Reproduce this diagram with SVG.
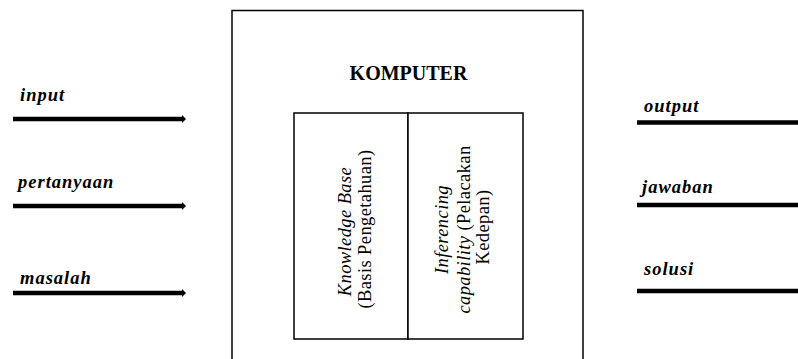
<svg xmlns="http://www.w3.org/2000/svg" width="798" height="359" viewBox="0 0 798 359">
  <style>
    .box { fill: #fff; stroke: #000; stroke-width: 1.5; }
    .flow { stroke: #000; stroke-width: 4.5; fill: none; }
    .lbl { font-family: "Liberation Serif", "Times New Roman", serif; font-size: 18.5px; font-weight: bold; font-style: italic; fill: #000; letter-spacing: 1px; }
    .title { font-family: "Liberation Serif", "Times New Roman", serif; font-size: 20px; font-weight: bold; fill: #000; }
    .vt { font-family: "Liberation Serif", "Times New Roman", serif; font-size: 18.5px; fill: #000; text-anchor: middle; letter-spacing: 0.4px; }
    .it { font-style: italic; }
  </style>
  <defs>
    <marker id="head" markerWidth="4" markerHeight="8" refX="0" refY="4" orient="auto" markerUnits="userSpaceOnUse">
      <path d="M0,0 L4,4 L0,8 Z" fill="#000"/>
    </marker>
  </defs>

  <!-- computer frame -->
  <g id="komputer">
    <rect class="box" x="232" y="10.5" width="351" height="360"/>
    <text class="title" x="408.5" y="80" text-anchor="middle">KOMPUTER</text>
  </g>

  <!-- knowledge base column -->
  <g id="knowledge-base">
    <rect class="box" x="294" y="113" width="114" height="226"/>
    <text class="vt" transform="translate(352 229) rotate(-90)">
      <tspan class="it" x="0" y="-1">Knowledge Base</tspan>
      <tspan x="0" y="19">(Basis Pengetahuan)</tspan>
    </text>
  </g>

  <!-- inferencing column -->
  <g id="inferencing">
    <rect class="box" x="408" y="113" width="115" height="226"/>
    <text class="vt" transform="translate(466 227) rotate(-90)">
      <tspan class="it" x="0" y="-18">Inferencing</tspan>
      <tspan x="0" y="4"><tspan class="it">capability</tspan> (Pelacakan</tspan>
      <tspan x="0" y="23">Kedepan)</tspan>
    </text>
  </g>

  <!-- inputs -->
  <g id="in-input">
    <text class="lbl" x="20" y="101">input</text>
  </g>
  <g id="in-pertanyaan">
    <text class="lbl" x="18" y="188">pertanyaan</text>
  </g>
  <g id="in-masalah">
    <text class="lbl" x="20" y="284">masalah</text>
  </g>

  <!-- outputs -->
  <g id="out-output">
    <text class="lbl" x="644" y="112">output</text>
  </g>
  <g id="out-jawaban">
    <text class="lbl" x="642" y="193">jawaban</text>
  </g>
  <g id="out-solusi">
    <text class="lbl" x="644" y="275">solusi</text>
  </g>

  <!-- connectors -->
  <g id="connectors">
    <line class="flow" x1="13" y1="119" x2="182" y2="119" marker-end="url(#head)"/>
    <line class="flow" x1="13" y1="206" x2="182" y2="206" marker-end="url(#head)"/>
    <line class="flow" x1="13" y1="293" x2="182" y2="293" marker-end="url(#head)"/>
    <line class="flow" x1="637" y1="122.5" x2="798" y2="122.5"/>
    <line class="flow" x1="637" y1="205" x2="798" y2="205"/>
    <line class="flow" x1="637" y1="291" x2="798" y2="291"/>
  </g>
</svg>
